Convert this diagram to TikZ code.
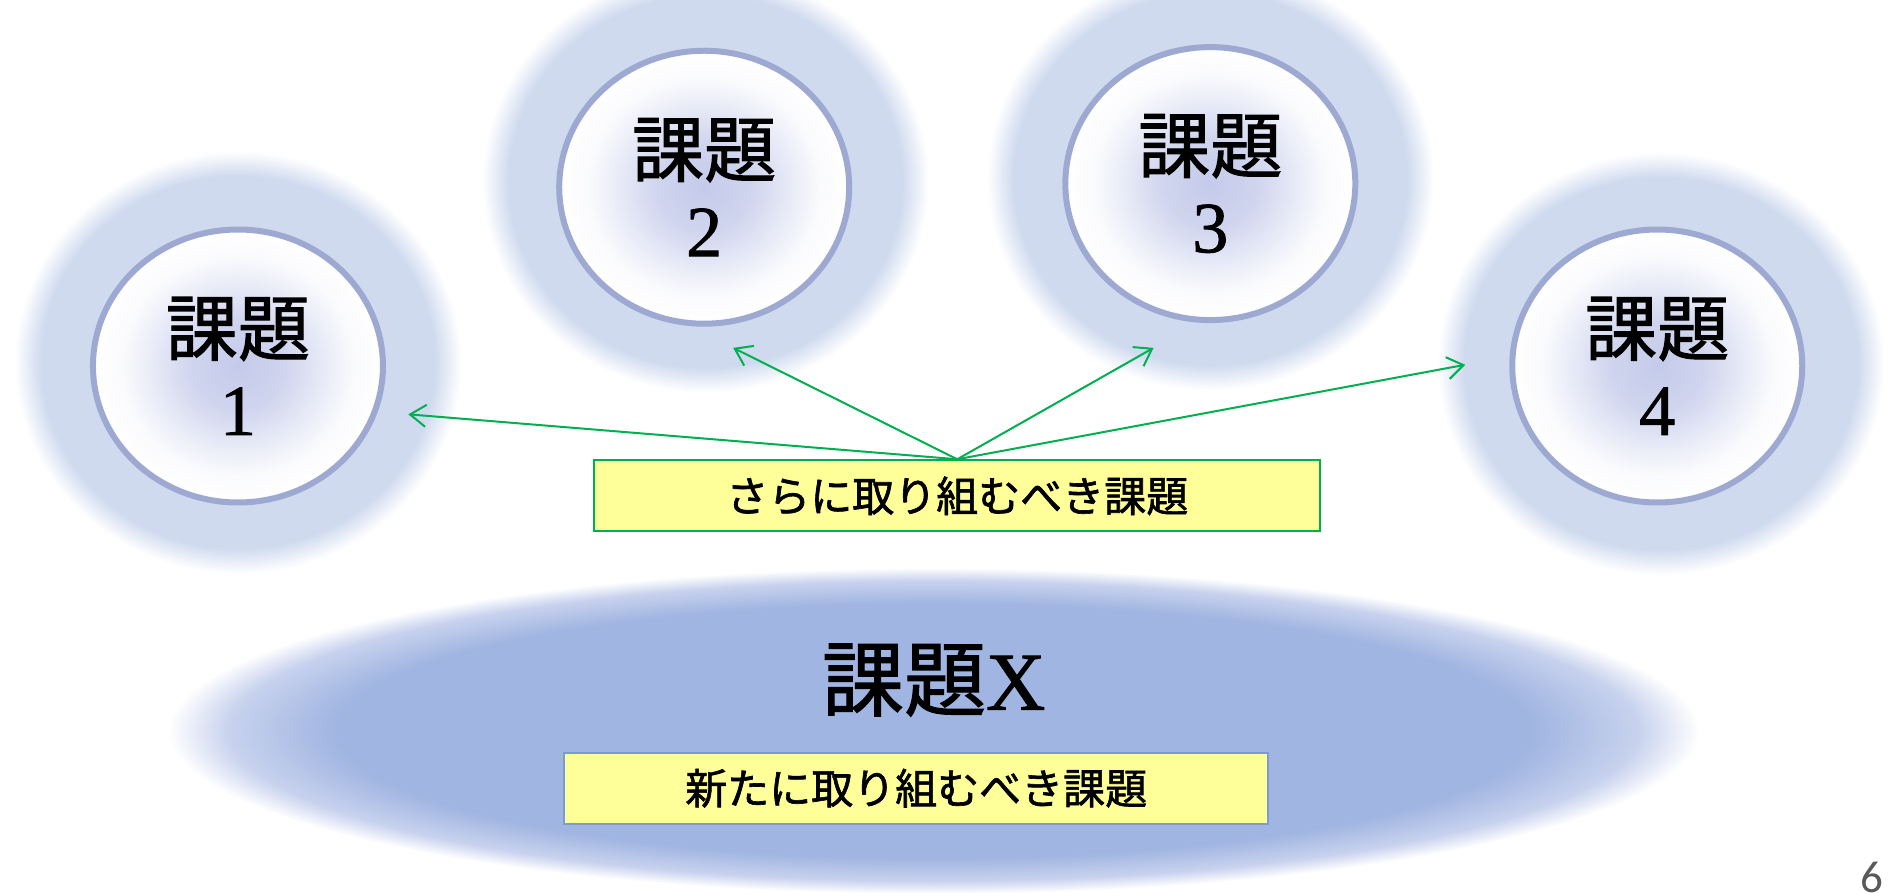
\documentclass[tikz,border=0pt]{standalone}
\usepackage{fontspec}
\newfontfamily\jp[FakeBold=1.5]{Noto Sans CJK JP}
\newfontfamily\num[FakeBold=1.2]{Liberation Serif}
\newfontfamily\pagefont{Carlito}
\usetikzlibrary{shapes.geometric, arrows.meta}

\definecolor{halo}{HTML}{CFDAEF}
\definecolor{ring}{HTML}{9DA9D1}
\definecolor{core}{HTML}{C4CAEA}
\definecolor{oval}{HTML}{A0B5E1}
\definecolor{ovaledge}{HTML}{C8D2EE}
\definecolor{memo}{HTML}{FFFF99}
\definecolor{memogreen}{HTML}{00B050}
\definecolor{memoblue}{HTML}{7A9CD6}
\definecolor{pagegray}{HTML}{595959}

\pgfdeclareradialshading{soft}{\pgfpoint{0bp}{0bp}}{color(0bp)=(halo); color(22bp)=(halo); color(25bp)=(white); color(50bp)=(white)}
\pgfdeclareradialshading{softoval}{\pgfpoint{0bp}{0bp}}{color(0bp)=(oval); color(19.5bp)=(oval); color(23bp)=(ovaledge); color(25bp)=(white); color(50bp)=(white)}
\pgfdeclareradialshading{bubble}{\pgfpoint{0bp}{0bp}}{color(0bp)=(core); color(8bp)=(core!80!white); color(20bp)=(white!92!core); color(25bp)=(white); color(50bp)=(white)}

\begin{document}
\begin{tikzpicture}[x=0.604pt, y=-0.604pt]
        \useasboundingbox (0,0) rectangle (1568,739);
        \tikzstyle{every node}=[inner sep=0pt]
        \tikzstyle{kadai}=[ellipse, draw=ring, line width=3pt, shade, shading=bubble,
          minimum width=145pt, minimum height=136.5pt, align=center,
          font=\jp\fontsize{36}{40}\selectfont]
        \tikzstyle{memobox}=[rectangle, fill=memo, line width=1pt, minimum height=35.6pt,
          font=\jp\fontsize{21}{24}\selectfont]
        \tikzstyle{arrowline}=[draw=memogreen, line width=1pt,
          -{Straight Barb[length=8pt, width=11pt]}]

        % soft halos behind the circles
        \foreach \x/\y in {197/300, 584/150, 1002/148, 1375/301}
        {
          \shade[shading=soft] (\x,\y) ellipse [x radius=185, y radius=175];
        }
        \shade[shading=softoval] (773,605) ellipse [x radius=634, y radius=135];

        \foreach \i/\x/\y in {1/197/303, 2/583/155, 3/1002/152, 4/1372/303}
        {
          \path (\x,\y) node[kadai] (k\i) {課題\\{\num\i}};
        }

        \path (773,563) node[font=\jp\fontsize{41}{46}\selectfont] (kx) {課題{\num X}};
        \path (792.5,410.5) node[memobox, draw=memogreen, minimum width=363pt] (more) {さらに取り組むべき課題};
        \path (758.5,652.5) node[memobox, draw=memoblue, minimum width=352pt] (new) {新たに取り組むべき課題};

        \coordinate (t1) at (338,343);
        \coordinate (t2) at (607,288);
        \coordinate (t3) at (955,288);
        \coordinate (t4) at (1213,302);
        \foreach \i in {1, 2, 3, 4}
        {
          \draw[arrowline] (more.north) -- (t\i);
        }

        \path (1549.5,713.5) node[anchor=north, text=pagegray, font=\pagefont\fontsize{22.5}{26}\selectfont] (page) {6};
      \end{tikzpicture}
\end{document}
